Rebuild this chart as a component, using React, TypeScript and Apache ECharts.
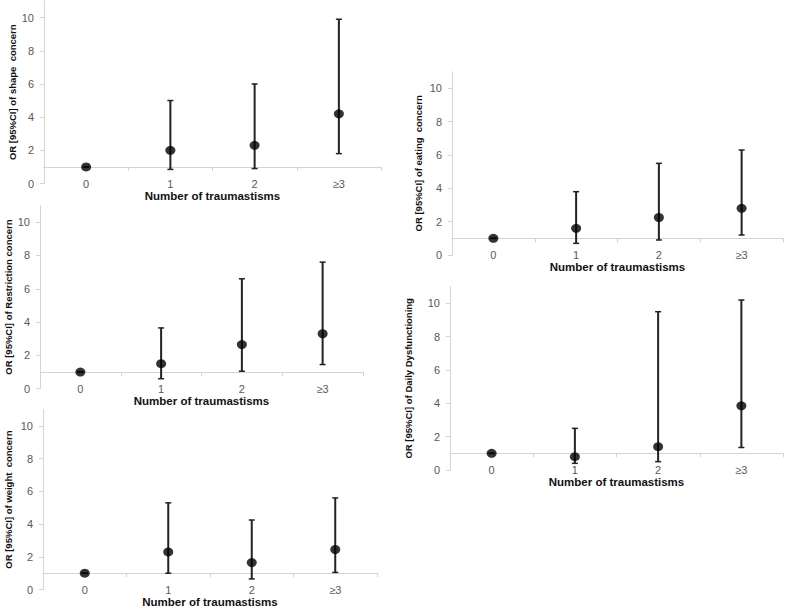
import React, { useEffect, useRef } from "react";
import * as echarts from "echarts";

const categories = ["0", "1", "2", "≥3"];
const yTickValues = [0, 2, 4, 6, 8, 10];

const shapeOR = [1, 2, 2.3, 4.2];
const shapeLow = [1, 0.85, 0.9, 1.8];
const shapeHigh = [1, 5, 6, 9.9];

const restrictionOR = [1, 1.5, 2.65, 3.3];
const restrictionLow = [1, 0.6, 1.05, 1.45];
const restrictionHigh = [1, 3.65, 6.6, 7.6];

const weightOR = [1, 2.3, 1.65, 2.45];
const weightLow = [1, 1, 0.65, 1.05];
const weightHigh = [1, 5.3, 4.25, 5.6];

const eatingOR = [1, 1.6, 2.25, 2.8];
const eatingLow = [1, 0.7, 0.9, 1.2];
const eatingHigh = [1, 3.8, 5.5, 6.3];

const dailyOR = [1, 0.8, 1.4, 3.85];
const dailyLow = [1, 0.4, 0.5, 1.35];
const dailyHigh = [1, 2.5, 9.5, 10.2];

const referenceLine = 1;
const xTitle = "Number of traumastisms";

const panels = [
  { yTitle: "OR [95%CI] of shape  concern", or: shapeOR, low: shapeLow, high: shapeHigh,
    rect: { left: 44, top: 1, width: 337, height: 182.5 }, yGap: 31, xGap: 12 },
  { yTitle: "OR [95%CI] of Restriction concern", or: restrictionOR, low: restrictionLow, high: restrictionHigh,
    rect: { left: 40, top: 205.5, width: 323, height: 183.2 }, yGap: 32, xGap: 8 },
  { yTitle: "OR [95%CI] of weight  concern", or: weightOR, low: weightLow, high: weightHigh,
    rect: { left: 43, top: 409.5, width: 334, height: 183.2 }, yGap: 35, xGap: 11.5 },
  { yTitle: "OR [95%CI] of eating  concern", or: eatingOR, low: eatingLow, high: eatingHigh,
    rect: { left: 452, top: 71.7, width: 331, height: 183.3 }, yGap: 34, xGap: 12 },
  { yTitle: "OR [95%CI] of Daily Dysfunctioning", or: dailyOR, low: dailyLow, high: dailyHigh,
    rect: { left: 450, top: 286.7, width: 333, height: 183.3 }, yGap: 42, xGap: 12 },
];

const FONT = "Liberation Sans";
const AXIS_COLOR = "#d4d4d4";
const LABEL_COLOR = "#595959";

export default function App() {
  const ref = useRef<HTMLDivElement>(null);

  useEffect(() => {
    if (!ref.current) return;
    const chart = echarts.init(ref.current, null, { renderer: "svg" });

    const grid: any[] = [];
    const xAxis: any[] = [];
    const yAxis: any[] = [];
    const series: any[] = [];

    panels.forEach((p, i) => {
      grid.push({ ...p.rect, containLabel: false });
      // label axis (sits on 0)
      xAxis.push({
        gridIndex: i,
        type: "category",
        data: categories,
        position: "bottom",
        axisLine: { show: false, onZero: false },
        axisTick: { show: false },
        axisLabel: { margin: 0, verticalAlign: "middle", color: LABEL_COLOR, fontFamily: FONT, fontSize: 11 },
        name: xTitle,
        nameLocation: "middle",
        nameGap: p.xGap,
        nameTextStyle: { fontFamily: FONT, fontWeight: "bold", fontSize: 11.5, color: "#111", verticalAlign: "middle" },
      });
      // line axis (crosses at the reference value)
      xAxis.push({
        gridIndex: i,
        type: "category",
        data: categories,
        position: "bottom",
        axisLine: { show: true, onZero: true, onZeroAxisIndex: 2 * i + 1, lineStyle: { color: AXIS_COLOR, width: 1 } },
        axisTick: { show: true, length: 4, lineStyle: { color: AXIS_COLOR } },
        axisLabel: { show: false },
      });
      yAxis.push({
        gridIndex: i,
        type: "value",
        position: "left",
        min: 0,
        max: 11,
        interval: 2,
        axisLine: { show: true, lineStyle: { color: AXIS_COLOR, width: 1 } },
        axisTick: { show: true, length: 4, customValues: yTickValues, lineStyle: { color: AXIS_COLOR } },
        axisLabel: { customValues: yTickValues, margin: 10, color: LABEL_COLOR, fontFamily: FONT, fontSize: 11 },
        splitLine: { show: false },
        name: p.yTitle,
        nameLocation: "middle",
        nameRotate: 90,
        nameGap: p.yGap,
        nameTextStyle: { fontFamily: FONT, fontWeight: "bold", fontSize: 9.5, color: "#111", verticalAlign: "middle", align: "center" },
      });
      // hidden axis shifted so its zero is the reference value
      yAxis.push({
        gridIndex: i,
        type: "value",
        position: "left",
        show: false,
        min: -referenceLine,
        max: 11 - referenceLine,
      });

      series.push({
        type: "custom",
        xAxisIndex: 2 * i,
        yAxisIndex: 2 * i,
        z: 2,
        encode: { x: 0, y: [1, 2] },
        data: categories.map((_, k) => [k, p.low[k], p.high[k]]),
        renderItem: (params: any, api: any) => {
          const x = api.value(0);
          const lo = api.coord([x, api.value(1)]);
          const hi = api.coord([x, api.value(2)]);
          const w = 3;
          const st = { stroke: "#222", lineWidth: 2 };
          const cap = { stroke: "#222", lineWidth: 1.5 };
          return {
            type: "group",
            children: [
              { type: "line", shape: { x1: lo[0], y1: lo[1], x2: hi[0], y2: hi[1] }, style: st },
              { type: "line", shape: { x1: hi[0] - w, y1: hi[1], x2: hi[0] + w, y2: hi[1] }, style: cap },
              { type: "line", shape: { x1: lo[0] - w, y1: lo[1], x2: lo[0] + w, y2: lo[1] }, style: cap },
            ],
          };
        },
      });
      series.push({
        type: "scatter",
        xAxisIndex: 2 * i,
        yAxisIndex: 2 * i,
        z: 3,
        symbol: "circle",
        symbolSize: [10, 9],
        itemStyle: { color: "#000" },
        data: p.or.map((v, k) => [k, v]),
      });
    });

    chart.setOption({
      animation: false,
      backgroundColor: "#fff",
      grid,
      xAxis,
      yAxis,
      series,
    });

    return () => chart.dispose();
  }, []);

  return (
    <div
      ref={ref}
      style={{ position: "absolute", left: 0, top: 0, width: 787, height: 609, background: "#fff" }}
    />
  );
}
